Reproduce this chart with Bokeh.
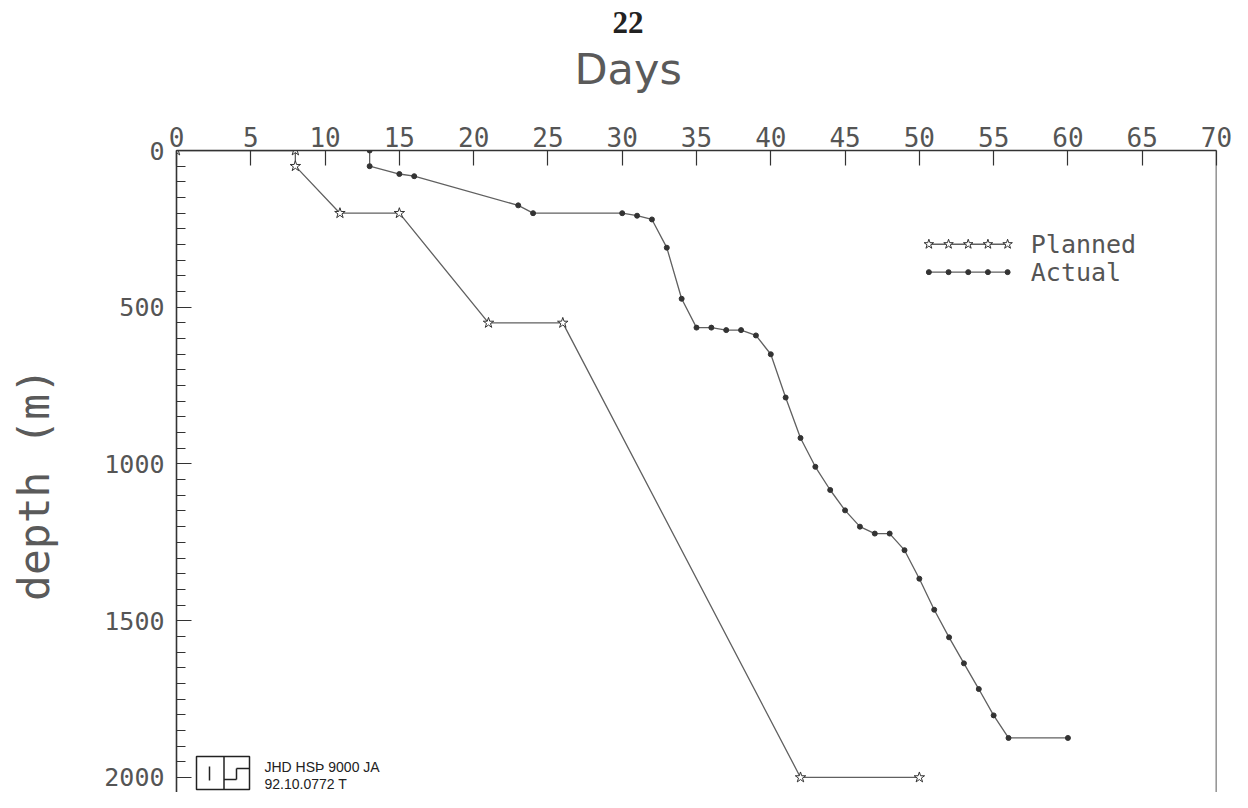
from bokeh.plotting import figure
from bokeh.models import (Range1d, SingleIntervalTicker, FixedTicker, Span, Title,
                          LinearAxis)
from bokeh.core.properties import value
from bokeh.embed import file_html
from bokeh.resources import INLINE
import numpy as np

# ---------------- data ----------------
planned_days = [0, 8, 8, 11, 15, 21, 26, 42, 50]
planned_depth = [0, 0, 50, 200, 200, 550, 550, 2000, 2000]

actual_days = [13, 13, 15, 16, 23, 24, 30, 31, 32, 33, 34, 35, 36, 37, 38, 39, 40,
               41, 42, 43, 44, 45, 46, 47, 48, 49, 50, 51, 52, 53, 54, 55, 56, 60]
actual_depth = [0, 50, 75, 82, 175, 200, 200, 208, 220, 310, 473, 565, 565, 573, 573,
                590, 650, 788, 917, 1009, 1083, 1148, 1200, 1222, 1222, 1275, 1366,
                1465, 1553, 1636, 1718, 1802, 1874, 1874]

series_names = ["Planned", "Actual"]
page_number = "22"
x_title = "Days"
y_title = "depth  (m)"
stamp_lines = ["JHD HSÞ 9000 JA", "92.10.0772 T"]

X_MAX = 70
Y_MAX = 2048

# ---------------- styling ----------------
FONT = "DejaVu Sans"
MONO = "DejaVu Sans Mono"
INK = "#333333"
TXT = "#555555"
LINE = "#606060"

W, H = 1232, 792
ML, MR, MT, MB = 176, 16, 150, 0
FW, FH = W - ML - MR, H - MT - MB

p = figure(width=W, height=H,
           x_range=Range1d(0, X_MAX), y_range=Range1d(Y_MAX, 0),
           x_axis_location="above", output_backend="svg", toolbar_location=None,
           min_border_left=ML, min_border_right=MR, min_border_top=MT,
           min_border_bottom=MB)
p.outline_line_color = None
p.grid.visible = False
p.background_fill_color = "white"
p.border_fill_color = "white"

xa = p.xaxis[0]
xa.ticker = SingleIntervalTicker(interval=5)
xa.major_tick_in = 15
xa.major_tick_out = 0
xa.minor_tick_line_color = None
xa.major_label_standoff = 0
xa.major_label_text_font = MONO
xa.major_label_text_font_size = "26px"
xa.major_label_text_color = TXT
xa.axis_line_color = INK
xa.axis_line_width = 1.6
xa.major_tick_line_color = INK
xa.major_tick_line_width = 1.2

ya = p.yaxis[0]
ya.ticker = SingleIntervalTicker(interval=500, num_minor_ticks=10)
ya.major_tick_in = 15
ya.major_tick_out = 0
ya.minor_tick_in = 9
ya.minor_tick_out = 0
ya.major_label_standoff = 12
ya.major_label_text_font = MONO
ya.major_label_text_font_size = "25px"
ya.major_label_text_color = TXT
ya.axis_line_color = INK
ya.axis_line_width = 1.6
ya.major_tick_line_color = INK
ya.major_tick_line_width = 1.2
ya.minor_tick_line_color = INK
ya.minor_tick_line_width = 1.2
ya.axis_label = y_title
ya.axis_label_text_font = MONO
ya.axis_label_text_font_size = "43px"
ya.axis_label_text_font_style = "normal"
ya.axis_label_text_color = "#5a5a5a"
ya.axis_label_standoff = 42

# blank spacer band between the tick labels and the "Days" heading
spacer = LinearAxis(ticker=FixedTicker(ticks=[0]), major_label_overrides={0: ""},
                    major_tick_out=25, major_tick_in=0,
                    major_tick_line_color="white", minor_tick_line_color=None,
                    axis_line_color=None, major_label_text_font_size="1px",
                    major_label_standoff=0)
p.add_layout(spacer, "above")
p.add_layout(Title(text=x_title, align="left", offset=398, standoff=10,
                   vertical_align="bottom", text_font=FONT, text_font_size="43px",
                   text_font_style="normal", text_color="#5a5a5a"), "above")
p.add_layout(Title(text=page_number, align="left", offset=436, standoff=8,
                   vertical_align="bottom", text_font="Liberation Serif",
                   text_font_size="31px", text_font_style="bold",
                   text_color="#222222"), "above")

p.add_layout(Span(location=X_MAX, dimension="height", line_color=INK, line_width=1.6))

# ---------------- series ----------------
p.line(planned_days, planned_depth, line_color=LINE, line_width=1.3)
p.scatter(planned_days, planned_depth, marker="star", size=11,
          line_color=INK, fill_color="white", line_width=1)
p.line(actual_days, actual_depth, line_color=LINE, line_width=1.3)
p.scatter(actual_days, actual_depth, marker="circle", size=5,
          line_color=INK, fill_color=INK)

# ---------------- legend (five markers per row, as in the original) ----------------
leg_x = np.linspace(50.64, 55.94, 5)
leg_y = [299, 388]
p.line(leg_x, [leg_y[0]] * 5, line_color=LINE, line_width=1.3)
p.scatter(leg_x, [leg_y[0]] * 5, marker="star", size=10, line_color=INK,
          fill_color="white", line_width=1)
p.line(leg_x, [leg_y[1]] * 5, line_color=LINE, line_width=1.3)
p.scatter(leg_x, [leg_y[1]] * 5, marker="circle", size=5, line_color=INK, fill_color=INK)
p.text(x=[57.5, 57.5], y=leg_y, text=series_names, text_font=value(MONO),
       text_font_size="25px", text_color=TXT, text_baseline="middle", text_align="left")

# ---------------- stamp in the lower left ----------------
OX, OY = ML + 4, MT


def px2d(px):
    return (px - OX) * X_MAX / FW


def py2d(py):
    return (py - OY) * Y_MAX / FH


p.quad(left=[px2d(200)], right=[px2d(253)], top=[py2d(756)], bottom=[py2d(789)],
       fill_color=None, line_color="#222222", line_width=1.5)
p.segment(x0=[px2d(227.5), px2d(213), px2d(240), px2d(240), px2d(227.5)],
          y0=[py2d(756), py2d(766), py2d(768), py2d(768), py2d(779)],
          x1=[px2d(227.5), px2d(213), px2d(253), px2d(240), px2d(240)],
          y1=[py2d(789), py2d(780), py2d(768), py2d(779), py2d(779)],
          line_color="#222222", line_width=1.5)
p.text(x=[px2d(268), px2d(268)], y=[py2d(766), py2d(783)], text=stamp_lines,
       text_font=value("Liberation Sans"), text_font_size="14px", text_color="#222222",
       text_baseline="middle", text_align="left")

open("out.html", "w").write(file_html(p, INLINE))
